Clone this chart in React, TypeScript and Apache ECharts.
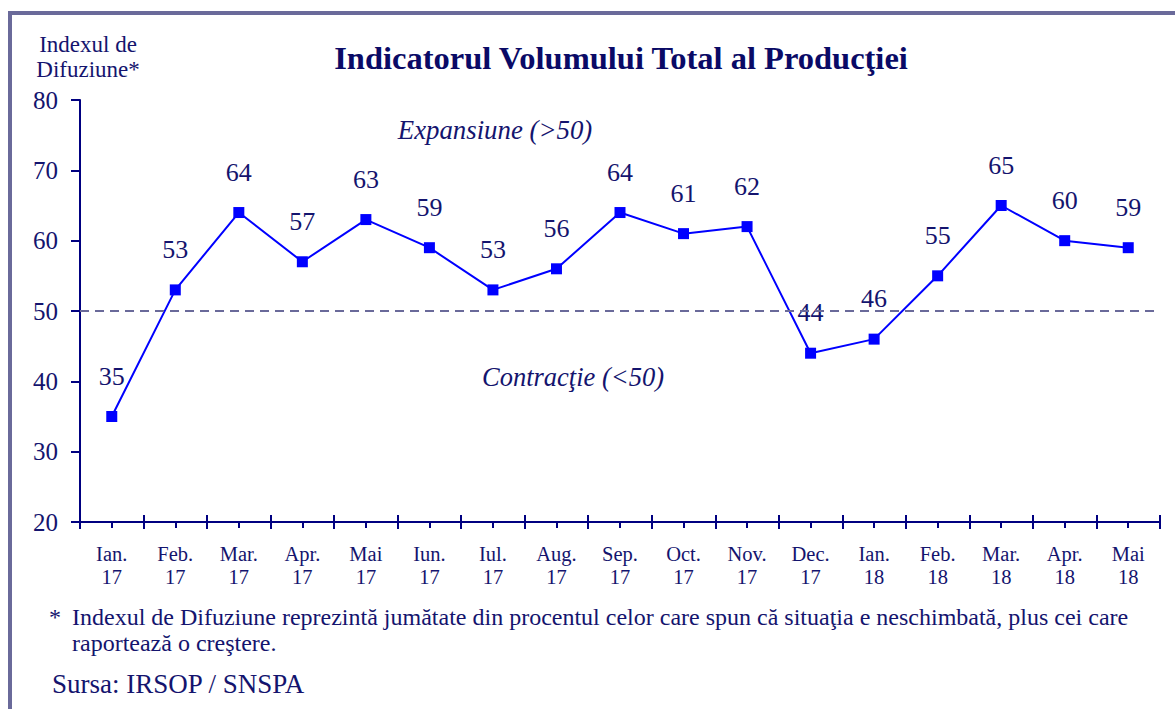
import React, { useEffect, useRef } from "react";
import * as echarts from "echarts";

const categories = [
  "Ian.\n17", "Feb.\n17", "Mar.\n17", "Apr.\n17", "Mai\n17", "Iun.\n17", "Iul.\n17", "Aug.\n17",
  "Sep.\n17", "Oct.\n17", "Nov.\n17", "Dec.\n17", "Ian.\n18", "Feb.\n18", "Mar.\n18", "Apr.\n18", "Mai\n18",
];
const values = [35, 53, 64, 57, 63, 59, 53, 56, 64, 61, 62, 44, 46, 55, 65, 60, 59];
const thresholdValue = 50;
const yMin = 20;
const yMax = 80;
const yInterval = 10;

const titleText = "Indicatorul Volumului Total al Producţiei";
const yAxisName = "Indexul de\nDifuziune*";
const expansionText = "Expansiune (>50)";
const contractionText = "Contracţie (<50)";
const footnoteMark = "*";
const footnoteText =
  "Indexul de Difuziune reprezintă jumătate din procentul celor care spun că situaţia e neschimbată, plus cei care\nraportează o creştere.";
const sourceText = "Sursa: IRSOP / SNSPA";

const FONT = "Liberation Serif";
const NAVY = "#000080";
const TEXT = "#14146e";
const BLUE = "#0000ff";
const BORDER = "#6a6a9a";

export default function App() {
  const ref = useRef<HTMLDivElement>(null);
  useEffect(() => {
    if (!ref.current) return;
    const chart = echarts.init(ref.current, null, { renderer: "svg" });
    const baseX = {
      type: "category" as const,
      data: categories,
      position: "bottom" as const,
      boundaryGap: true,
      gridIndex: 0,
    };
    const ts = (size: number, extra: any = {}) => ({
      color: TEXT,
      fontFamily: FONT,
      fontSize: size,
      fontWeight: "normal",
      ...extra,
    });
    chart.setOption({
      animation: false,
      backgroundColor: "#ffffff",
      textStyle: { fontFamily: FONT },
      title: [
        {
          text: titleText,
          left: 621,
          top: 41,
          padding: 0,
          textAlign: "center",
          textStyle: { fontFamily: FONT, fontSize: 32.5, fontWeight: "bold", color: "#0a0a66" },
        },
        {
          text: yAxisName,
          left: 88,
          top: 32,
          padding: 0,
          textAlign: "center",
          textStyle: ts(23, { lineHeight: 25 }),
        },
        {
          text: expansionText,
          left: 495,
          top: 115,
          padding: 0,
          textAlign: "center",
          textStyle: ts(26.8, { fontStyle: "italic", lineHeight: 30 }),
        },
        {
          text: contractionText,
          left: 573,
          top: 362,
          padding: 0,
          textAlign: "center",
          textStyle: ts(26.5, { fontStyle: "italic", lineHeight: 30 }),
        },
        {
          text: footnoteMark,
          left: 49,
          top: 604,
          padding: 0,
          textStyle: ts(24, { lineHeight: 26 }),
        },
        {
          text: footnoteText,
          left: 72,
          top: 604,
          padding: 0,
          textStyle: ts(24, { lineHeight: 26 }),
        },
        {
          text: sourceText,
          left: 52,
          top: 669,
          padding: 0,
          textStyle: ts(27, { lineHeight: 30 }),
        },
      ],
      grid: { left: 80, right: 15, top: 100, bottom: 187, containLabel: false },
      xAxis: [
        {
          ...baseX,
          axisLine: { show: true, lineStyle: { color: NAVY, width: 2 } },
          axisTick: { show: true, length: 7, inside: false, lineStyle: { color: NAVY, width: 2 } },
          axisLabel: {
            show: true,
            interval: 0,
            margin: 20,
            color: TEXT,
            fontFamily: FONT,
            fontSize: 20.5,
            lineHeight: 23,
          },
          splitLine: { show: false },
        },
        {
          ...baseX,
          axisLine: { show: false },
          axisTick: { show: true, length: 7, inside: true, lineStyle: { color: NAVY, width: 2 } },
          axisLabel: { show: false },
          splitLine: { show: false },
        },
        {
          ...baseX,
          axisLine: { show: false },
          axisTick: { show: true, length: 6, inside: false, alignWithLabel: true, lineStyle: { color: NAVY, width: 2 } },
          axisLabel: { show: false },
          splitLine: { show: false },
        },
      ],
      yAxis: {
        type: "value",
        min: yMin,
        max: yMax,
        interval: yInterval,
        axisLine: { show: true, lineStyle: { color: NAVY, width: 2 } },
        axisTick: { show: true, length: 9, inside: false, lineStyle: { color: NAVY, width: 2 } },
        axisLabel: { margin: 22, color: TEXT, fontFamily: FONT, fontSize: 25 },
        splitLine: { show: false },
      },
      series: [
        {
          type: "line",
          data: values,
          xAxisIndex: 0,
          symbol: "rect",
          symbolSize: 11,
          lineStyle: { color: BLUE, width: 2 },
          itemStyle: { color: BLUE },
          label: {
            show: true,
            position: "top",
            distance: 22,
            color: TEXT,
            fontFamily: FONT,
            fontSize: 26,
          },
          markLine: {
            silent: true,
            symbol: ["none", "none"],
            label: { show: false },
            lineStyle: { color: BORDER, width: 2, type: [9, 6] },
            data: [{ yAxis: thresholdValue }],
          },
          z: 3,
        },
      ],
      graphic: [
        { type: "rect", shape: { x: 8, y: 11, width: 4, height: 720 }, style: { fill: BORDER }, silent: true },
        { type: "rect", shape: { x: 8, y: 11, width: 1200, height: 4 }, style: { fill: BORDER }, silent: true },
      ],
    });
    return () => chart.dispose();
  }, []);
  return (
    <div
      ref={ref}
      style={{ position: "fixed", left: 0, top: 0, width: 1175, height: 709, background: "#fff" }}
    />
  );
}
